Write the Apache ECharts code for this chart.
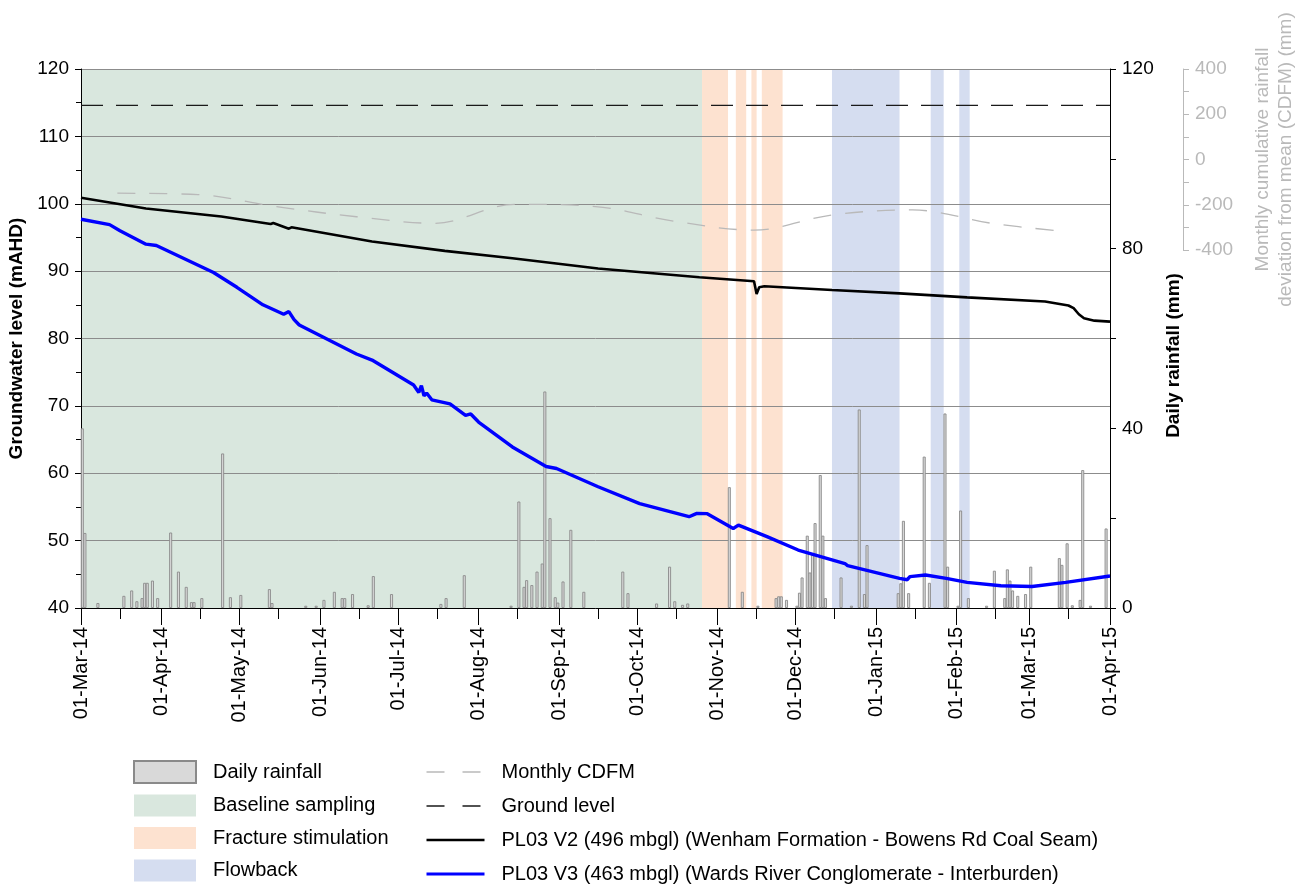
<!DOCTYPE html>
<html>
<head>
<meta charset="utf-8">
<script src="https://cdn.jsdelivr.net/npm/echarts@6/dist/echarts.min.js"></script>
<style>
  html, body { margin: 0; padding: 0; background: #fff; }
  #chart { width: 1306px; height: 888px; }
</style>
</head>
<body>
<div id="chart"></div>
<script>
// ---- data -------------------------------------------------------------
const MONTH_NAMES = ['Jan','Feb','Mar','Apr','May','Jun','Jul','Aug','Sep','Oct','Nov','Dec'];
const X_START = '2014-03-01';
const X_END = '2015-04-01';

const GROUND_LEVEL = 114.6; // mAHD

// monitoring periods [start, end]
const baselinePeriods = [['2014-03-01', '2014-10-26']];
const fracturePeriods = [
  ['2014-10-26', '2014-11-05'],
  ['2014-11-08', '2014-11-12'],
  ['2014-11-14', '2014-11-16'],
  ['2014-11-18', '2014-11-26']
];
const flowbackPeriods = [
  ['2014-12-15', '2015-01-10'],
  ['2015-01-22', '2015-01-27'],
  ['2015-02-02', '2015-02-06']
];

// daily rainfall (mm), days without rain omitted
const dailyRainfall = [
  ['2014-03-01', 40.0], ['2014-03-02', 16.7], ['2014-03-07', 1.1], ['2014-03-17', 2.7],
  ['2014-03-20', 3.9], ['2014-03-22', 1.5], ['2014-03-24', 2.2], ['2014-03-25', 5.6],
  ['2014-03-26', 5.6], ['2014-03-28', 6.1], ['2014-03-30', 2.2],
  ['2014-04-04', 16.8], ['2014-04-07', 8.1], ['2014-04-10', 4.7], ['2014-04-12', 1.3],
  ['2014-04-13', 1.3], ['2014-04-16', 2.2], ['2014-04-24', 34.4], ['2014-04-27', 2.4],
  ['2014-05-01', 2.9], ['2014-05-12', 4.2], ['2014-05-13', 1.1], ['2014-05-26', 0.5],
  ['2014-05-30', 0.5],
  ['2014-06-02', 1.8], ['2014-06-06', 3.6], ['2014-06-09', 2.2], ['2014-06-10', 2.2],
  ['2014-06-13', 3.1], ['2014-06-19', 0.6], ['2014-06-21', 7.1], ['2014-06-28', 3.1],
  ['2014-07-17', 0.9], ['2014-07-19', 2.2], ['2014-07-26', 7.3],
  ['2014-08-13', 0.5], ['2014-08-16', 23.7], ['2014-08-18', 4.7], ['2014-08-19', 6.2],
  ['2014-08-21', 5.1], ['2014-08-23', 8.1], ['2014-08-25', 9.9], ['2014-08-26', 48.2],
  ['2014-08-28', 20.0], ['2014-08-30', 2.4], ['2014-08-31', 1.2],
  ['2014-09-02', 5.9], ['2014-09-05', 17.4], ['2014-09-10', 3.6], ['2014-09-25', 8.1],
  ['2014-09-27', 3.3],
  ['2014-10-08', 1.0], ['2014-10-13', 9.2], ['2014-10-15', 1.5], ['2014-10-18', 0.7],
  ['2014-10-20', 1.0],
  ['2014-11-05', 26.9], ['2014-11-10', 3.6], ['2014-11-16', 0.5], ['2014-11-23', 2.2],
  ['2014-11-24', 2.6], ['2014-11-25', 2.6], ['2014-11-27', 1.8],
  ['2014-12-01', 0.5], ['2014-12-02', 3.4], ['2014-12-03', 6.8], ['2014-12-05', 16.1],
  ['2014-12-06', 7.9], ['2014-12-07', 12.0], ['2014-12-08', 18.9], ['2014-12-10', 29.6],
  ['2014-12-11', 16.1], ['2014-12-12', 2.2], ['2014-12-18', 6.8], ['2014-12-22', 0.5],
  ['2014-12-25', 44.2], ['2014-12-27', 3.1], ['2014-12-28', 14.0],
  ['2015-01-09', 3.3], ['2015-01-10', 5.5], ['2015-01-11', 19.4], ['2015-01-13', 3.3],
  ['2015-01-19', 33.7], ['2015-01-21', 5.6], ['2015-01-27', 43.3], ['2015-01-28', 9.2],
  ['2015-02-01', 0.5], ['2015-02-02', 21.7], ['2015-02-05', 2.2], ['2015-02-12', 0.5],
  ['2015-02-15', 8.3], ['2015-02-19', 2.2], ['2015-02-20', 8.6], ['2015-02-21', 6.1],
  ['2015-02-22', 3.9], ['2015-02-24', 2.7], ['2015-02-27', 3.1],
  ['2015-03-01', 9.2], ['2015-03-12', 11.1], ['2015-03-13', 9.6], ['2015-03-15', 14.4],
  ['2015-03-17', 0.6], ['2015-03-20', 1.8], ['2015-03-21', 30.7], ['2015-03-24', 0.5],
  ['2015-03-30', 17.7]
];

// monthly cumulative deviation from mean rainfall (mm)
const monthlyCdfm = [
  ['2014-03-15', -149], ['2014-04-15', -155], ['2014-05-15', -208], ['2014-06-15', -253],
  ['2014-07-15', -282], ['2014-08-15', -198], ['2014-09-15', -208], ['2014-10-15', -272],
  ['2014-11-15', -312], ['2014-12-15', -245], ['2015-01-15', -223], ['2015-02-15', -283],
  ['2015-03-12', -315]
];

// PL03 V2 groundwater level (mAHD)
const v2Level = [
  ['2014-03-01', 100.9], ['2014-03-26', 99.3], ['2014-04-24', 98.1], ['2014-05-13', 97.0],
  ['2014-05-14', 97.15], ['2014-05-20', 96.3], ['2014-05-21', 96.5], ['2014-06-21', 94.4],
  ['2014-07-19', 93.0], ['2014-08-14', 91.9], ['2014-09-16', 90.4], ['2014-10-25', 89.1],
  ['2014-11-15', 88.5], ['2014-11-16', 86.6], ['2014-11-17', 87.6], ['2014-11-19', 87.75],
  ['2014-12-15', 87.2], ['2015-01-10', 86.7], ['2015-02-05', 86.1], ['2015-03-07', 85.5],
  ['2015-03-16', 84.9], ['2015-03-18', 84.5], ['2015-03-20', 83.6], ['2015-03-22', 83.0],
  ['2015-03-26', 82.65], ['2015-04-01', 82.5]
];

// PL03 V3 groundwater level (mAHD)
const v3Level = [
  ['2014-03-01', 97.7], ['2014-03-12', 96.9], ['2014-03-16', 96.0], ['2014-03-26', 94.0],
  ['2014-03-30', 93.8], ['2014-04-21', 89.8], ['2014-04-30', 87.6], ['2014-05-10', 85.0],
  ['2014-05-18', 83.6], ['2014-05-20', 84.0], ['2014-05-22', 82.8], ['2014-05-24', 82.0],
  ['2014-06-15', 77.7], ['2014-06-21', 76.8], ['2014-07-07', 73.1], ['2014-07-09', 72.0],
  ['2014-07-10', 73.0], ['2014-07-11', 71.5], ['2014-07-12', 71.9], ['2014-07-14', 70.9],
  ['2014-07-21', 70.3], ['2014-07-27', 68.6], ['2014-07-29', 68.8], ['2014-08-01', 67.6],
  ['2014-08-14', 63.9], ['2014-08-27', 61.0], ['2014-08-31', 60.7], ['2014-09-16', 58.0],
  ['2014-10-02', 55.5], ['2014-10-21', 53.55], ['2014-10-24', 54.05], ['2014-10-28', 54.0],
  ['2014-11-07', 51.8], ['2014-11-09', 52.3], ['2014-11-20', 50.6], ['2014-12-02', 48.6],
  ['2014-12-20', 46.6], ['2014-12-21', 46.3], ['2015-01-10', 44.4], ['2015-01-13', 44.2],
  ['2015-01-14', 44.65], ['2015-01-20', 44.9], ['2015-01-28', 44.4], ['2015-02-05', 43.8],
  ['2015-02-18', 43.3], ['2015-03-02', 43.2], ['2015-03-15', 43.8], ['2015-04-01', 44.75]
];

// ---- helpers ----------------------------------------------------------
const FONT = '"Liberation Sans", Arial, Helvetica, sans-serif';
const HALF_DAY = 12 * 3600 * 1000;

function toTime(s) {
  const [y, m, d] = s.split('-').map(Number);
  return new Date(y, m - 1, d).getTime();
}
function pad2(n) { return (n < 10 ? '0' : '') + n; }
function dateLabel(v) {
  const dt = new Date(v);
  return pad2(dt.getDate()) + '-' + MONTH_NAMES[dt.getMonth()] + '-' + String(dt.getFullYear()).slice(2);
}

const tMin = toTime(X_START);
const tMax = toTime(X_END);

// month starts (labelled ticks) and mid-month (short ticks)
const monthStarts = [];
const midMonths = [];
{
  const s = new Date(tMin);
  for (let i = 0; ; i++) {
    const d = new Date(s.getFullYear(), s.getMonth() + i, 1);
    if (d.getTime() > tMax) break;
    monthStarts.push(d.getTime());
    const m = new Date(s.getFullYear(), s.getMonth() + i, 16);
    if (m.getTime() < tMax) midMonths.push(m.getTime());
  }
}

const toPairs = arr => arr.map(([d, v]) => [toTime(d), v]);
const toPeriods = arr => arr.map(([a, b]) => [toTime(a), toTime(b)]);

// full-height shaded period between two dates
function bandRenderer(params, api) {
  const a = api.coord([api.value(0), 80]);
  const b = api.coord([api.value(1), 80]);
  const cs = params.coordSys;
  return {
    type: 'rect',
    shape: { x: a[0], y: cs.y, width: b[0] - a[0], height: cs.height },
    style: { fill: api.visual('color') }
  };
}

const COLORS = {
  baseline: '#d9e7de',
  fracture: '#fde2d0',
  flowback: '#d5ddf0',
  rainFill: '#d9d9d9',
  rainEdge: '#8a8a8a',
  cdfm: '#b9b9b9',
  ground: '#1a1a1a',
  v2: '#000000',
  v3: '#0000ff',
  grid: '#8c8c8c'
};

const V2_NAME = 'PL03 V2 (496 mbgl) (Wenham Formation - Bowens Rd Coal Seam)';
const V3_NAME = 'PL03 V3 (463 mbgl) (Wards River Conglomerate - Interburden)';

const chart = echarts.init(document.getElementById('chart'), null, { renderer: 'canvas' });

const axisText = { fontFamily: FONT, fontSize: 19, color: '#000' };
const legendText = { fontFamily: FONT, fontSize: 20, color: '#000', padding: [0, 0, 0, 12] };

chart.setOption({
  animation: false,
  backgroundColor: '#fff',
  textStyle: { fontFamily: FONT },
  grid: [
    { left: 81, right: 196, top: 69, bottom: 280, outerBoundsMode: 'none', containLabel: false },
    { left: 81, right: 196, top: 69, height: 181, outerBoundsMode: 'none', containLabel: false }
  ],
  legend: [
    {
      data: ['Daily rainfall', 'Baseline sampling', 'Fracture stimulation', 'Flowback'],
      orient: 'vertical', left: 133, top: 760, height: 128, padding: 0,
      itemWidth: 62, itemHeight: 22, itemGap: 10.5, icon: 'rect',
      selectedMode: false,
      textStyle: legendText
    },
    {
      data: [
        { name: 'Monthly CDFM', lineStyle: { color: COLORS.cdfm, width: 1.3, type: [18, 18] } },
        { name: 'Ground level', lineStyle: { color: COLORS.ground, width: 1.3, type: [18, 18] } },
        { name: V2_NAME, lineStyle: { color: COLORS.v2, width: 2.6 } },
        { name: V3_NAME, lineStyle: { color: COLORS.v3, width: 3 } }
      ],
      orient: 'vertical', left: 425, top: 762, height: 128, padding: 0,
      itemWidth: 58, itemHeight: 22, itemGap: 14,
      itemStyle: { opacity: 0 },
      selectedMode: false,
      textStyle: legendText
    }
  ],
  xAxis: [
    {
      type: 'value', gridIndex: 0, position: 'bottom', min: tMin, max: tMax, scale: true,
      axisLine: { show: true, onZero: false, lineStyle: { color: '#000', width: 1 } },
      axisTick: { show: true, length: 17, customValues: monthStarts, lineStyle: { color: '#000' } },
      axisLabel: {
        show: true, rotate: 90, margin: 19, customValues: monthStarts,
        formatter: dateLabel, ...axisText, fontSize: 20
      },
      splitLine: { show: false }
    },
    {
      type: 'value', gridIndex: 0, position: 'bottom', min: tMin, max: tMax, scale: true,
      axisLine: { show: false, onZero: false },
      axisTick: { show: true, length: 11, customValues: midMonths, lineStyle: { color: '#000' } },
      axisLabel: { show: false },
      splitLine: { show: false }
    },
    { type: 'value', gridIndex: 1, min: tMin, max: tMax, scale: true, show: false }
  ],
  yAxis: [
    {
      type: 'value', gridIndex: 0, position: 'left', min: 40, max: 120, interval: 10,
      name: 'Groundwater level (mAHD)', nameLocation: 'middle', nameGap: 50, nameRotate: 90,
      nameTextStyle: { fontFamily: FONT, fontSize: 19, fontWeight: 'bold', color: '#000' },
      axisLine: { show: true, lineStyle: { color: '#000', width: 1 } },
      axisTick: { show: true, length: 6, lineStyle: { color: '#000' } },
      minorTick: { show: true, splitNumber: 2, length: 5, lineStyle: { color: '#000' } },
      axisLabel: { margin: 12, ...axisText },
      splitLine: { show: true, lineStyle: { color: COLORS.grid, width: 1 } }
    },
    {
      type: 'value', gridIndex: 0, position: 'right', min: 0, max: 120, interval: 40,
      name: 'Daily rainfall (mm)', nameLocation: 'middle', nameGap: 39, nameRotate: 90,
      nameTextStyle: { fontFamily: FONT, fontSize: 19, fontWeight: 'bold', color: '#000', padding: [0, 34, 0, 0] },
      axisLine: { show: true, lineStyle: { color: '#000', width: 1 } },
      axisTick: { show: true, length: 6, lineStyle: { color: '#000' } },
      minorTick: { show: true, splitNumber: 2, length: 6, lineStyle: { color: '#000' } },
      axisLabel: { margin: 12, ...axisText },
      splitLine: { show: false }
    },
    {
      type: 'value', gridIndex: 1, position: 'right', offset: 73, min: -400, max: 400, interval: 200,
      name: 'Monthly cumulative rainfall\ndeviation from mean (CDFM) (mm)',
      nameLocation: 'middle', nameGap: 68, nameRotate: 90,
      nameTextStyle: { fontFamily: FONT, fontSize: 19, color: COLORS.cdfm, lineHeight: 23 },
      axisLine: { show: true, lineStyle: { color: COLORS.cdfm, width: 1 } },
      axisTick: { show: true, length: 6, lineStyle: { color: COLORS.cdfm } },
      minorTick: { show: true, splitNumber: 2, length: 6, lineStyle: { color: COLORS.cdfm } },
      axisLabel: { margin: 12, fontFamily: FONT, fontSize: 19, color: COLORS.cdfm },
      splitLine: { show: false }
    }
  ],
  series: [
    {
      type: 'custom', name: 'Baseline sampling', xAxisIndex: 0, yAxisIndex: 0, z: -1, silent: true,
      itemStyle: { color: COLORS.baseline }, encode: { x: [0, 1] },
      renderItem: bandRenderer, data: toPeriods(baselinePeriods)
    },
    {
      type: 'custom', name: 'Fracture stimulation', xAxisIndex: 0, yAxisIndex: 0, z: -1, silent: true,
      itemStyle: { color: COLORS.fracture }, encode: { x: [0, 1] },
      renderItem: bandRenderer, data: toPeriods(fracturePeriods)
    },
    {
      type: 'custom', name: 'Flowback', xAxisIndex: 0, yAxisIndex: 0, z: -1, silent: true,
      itemStyle: { color: COLORS.flowback }, encode: { x: [0, 1] },
      renderItem: bandRenderer, data: toPeriods(flowbackPeriods)
    },
    {
      type: 'bar', name: 'Daily rainfall', xAxisIndex: 0, yAxisIndex: 1, barWidth: 3,
      itemStyle: { color: COLORS.rainFill, borderColor: COLORS.rainEdge, borderWidth: 0.9 },
      data: dailyRainfall.map(([d, v]) => [toTime(d) + HALF_DAY, v])
    },
    {
      type: 'line', name: 'Monthly CDFM', xAxisIndex: 2, yAxisIndex: 2, smooth: 0.35,
      symbol: 'none', itemStyle: { color: COLORS.cdfm },
      lineStyle: { color: COLORS.cdfm, width: 1.3, type: [18, 14] },
      data: toPairs(monthlyCdfm)
    },
    {
      type: 'line', name: 'Ground level', xAxisIndex: 0, yAxisIndex: 0, symbol: 'none',
      itemStyle: { color: COLORS.ground },
      lineStyle: { color: COLORS.ground, width: 1.3, type: [22, 13] },
      data: [[tMin, GROUND_LEVEL], [tMax, GROUND_LEVEL]]
    },
    {
      type: 'line', name: V2_NAME, xAxisIndex: 0, yAxisIndex: 0, symbol: 'none', z: 4,
      itemStyle: { color: COLORS.v2 },
      lineStyle: { color: COLORS.v2, width: 2.6 },
      data: toPairs(v2Level)
    },
    {
      type: 'line', name: V3_NAME, xAxisIndex: 0, yAxisIndex: 0, symbol: 'none', z: 5,
      itemStyle: { color: COLORS.v3 },
      lineStyle: { color: COLORS.v3, width: 3.4 },
      data: toPairs(v3Level)
    }
  ]
});
</script>
</body>
</html>
